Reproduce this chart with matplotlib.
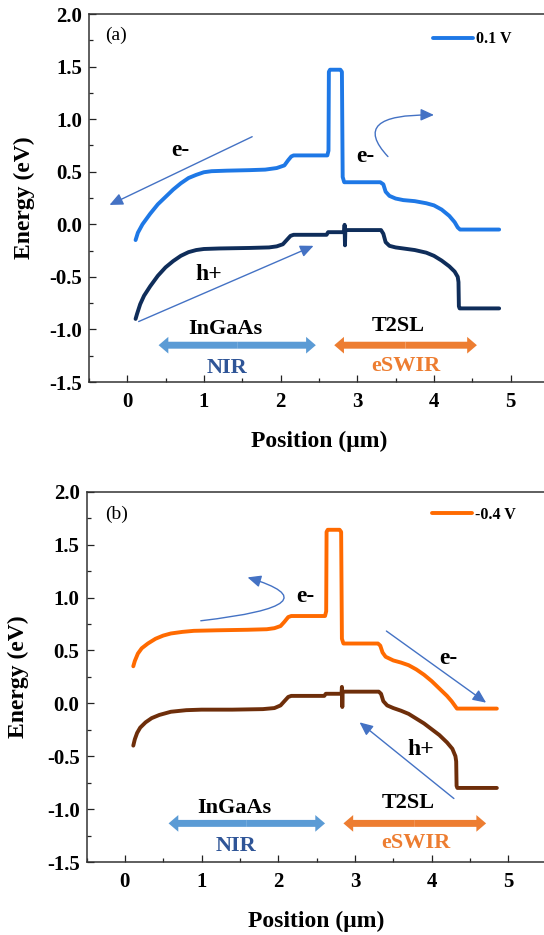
import matplotlib
matplotlib.use("Agg")
import matplotlib.pyplot as plt
from matplotlib.patches import FancyArrowPatch
from matplotlib.path import Path
from matplotlib.ticker import MultipleLocator

plt.rcParams['font.family'] = ['Liberation Serif', 'DejaVu Serif']
plt.rcParams['font.weight'] = 'bold'
plt.rcParams['axes.unicode_minus'] = False

# ---------------- data ----------------
# Panel (a): 0.1 V
a_cb_x = [0.11, 0.14, 0.20, 0.30, 0.40, 0.50, 0.60, 0.70, 0.80, 0.90, 1.00, 1.10, 1.30, 1.60, 1.80,
          1.95, 2.05, 2.10, 2.14, 2.17, 2.40, 2.61, 2.625, 2.63, 2.645, 2.78, 2.80, 2.81, 2.83, 3.30,
          3.34, 3.37, 3.42, 3.50, 3.60, 3.75, 3.90, 4.00, 4.10, 4.20, 4.27, 4.31, 4.34, 4.85]
a_cb_y = [-0.15, -0.08, 0.00, 0.10, 0.19, 0.26, 0.33, 0.39, 0.44, 0.47, 0.495, 0.505, 0.51, 0.515, 0.52,
          0.535, 0.56, 0.61, 0.645, 0.655, 0.655, 0.655, 0.70, 1.45, 1.47, 1.47, 1.45, 0.45, 0.40, 0.40,
          0.38, 0.31, 0.27, 0.245, 0.23, 0.22, 0.20, 0.18, 0.14, 0.08, 0.02, -0.03, -0.05, -0.05]

a_vb_x = [0.11, 0.13, 0.17, 0.22, 0.30, 0.40, 0.50, 0.60, 0.70, 0.80, 0.90, 1.00, 1.20, 1.60, 1.85,
          1.95, 2.03, 2.08, 2.13, 2.17, 2.60, 2.62, 2.83, 2.835, 2.84, 2.845, 3.31, 3.34, 3.37, 3.42,
          3.50, 3.60, 3.75, 3.90, 4.00, 4.10, 4.20, 4.27, 4.31, 4.32, 4.325, 4.335, 4.85]
a_vb_y = [-0.90, -0.85, -0.76, -0.68, -0.59, -0.49, -0.41, -0.35, -0.30, -0.265, -0.245, -0.235, -0.23,
          -0.225, -0.22, -0.21, -0.19, -0.15, -0.11, -0.10, -0.10, -0.075, -0.075, -0.005, -0.20, -0.055,
          -0.055, -0.09, -0.17, -0.205, -0.22, -0.23, -0.245, -0.27, -0.30, -0.345, -0.40, -0.45, -0.50,
          -0.55, -0.78, -0.80, -0.80]

# Panel (b): -0.4 V
b_cb_x = [0.11, 0.13, 0.17, 0.22, 0.30, 0.40, 0.50, 0.60, 0.75, 0.90, 1.20, 1.60, 1.85, 1.95, 2.03,
          2.08, 2.13, 2.17, 2.61, 2.625, 2.63, 2.645, 2.80, 2.82, 2.83, 2.85, 3.30, 3.33, 3.36, 3.40,
          3.50, 3.60, 3.70, 3.80, 3.90, 4.00, 4.10, 4.20, 4.26, 4.30, 4.33, 4.85]
b_cb_y = [0.35, 0.40, 0.47, 0.52, 0.565, 0.61, 0.64, 0.66, 0.675, 0.685, 0.69, 0.695, 0.70, 0.71, 0.73,
          0.77, 0.815, 0.825, 0.825, 0.87, 1.62, 1.64, 1.64, 1.62, 0.61, 0.565, 0.565, 0.545, 0.48, 0.44,
          0.405, 0.385, 0.36, 0.32, 0.27, 0.21, 0.14, 0.07, 0.02, -0.02, -0.05, -0.05]

b_vb_x = [0.11, 0.13, 0.16, 0.20, 0.27, 0.35, 0.45, 0.60, 0.80, 1.00, 1.40, 1.80, 1.95, 2.03, 2.08,
          2.13, 2.17, 2.60, 2.62, 2.825, 2.83, 2.835, 2.84, 3.31, 3.34, 3.37, 3.42, 3.50, 3.60, 3.70,
          3.80, 3.90, 4.00, 4.10, 4.20, 4.27, 4.31, 4.32, 4.325, 4.335, 4.85]
b_vb_y = [-0.40, -0.34, -0.28, -0.23, -0.18, -0.14, -0.11, -0.08, -0.065, -0.06, -0.06, -0.055, -0.045,
          -0.02, 0.02, 0.06, 0.07, 0.07, 0.09, 0.09, 0.155, -0.035, 0.11, 0.11, 0.09, 0.02, -0.02, -0.045,
          -0.07, -0.10, -0.145, -0.19, -0.245, -0.30, -0.37, -0.43, -0.50, -0.55, -0.78, -0.80, -0.80]

legend_a = "0.1 V"
legend_b = "-0.4 V"
x_ticks = [0, 1, 2, 3, 4, 5]
y_ticks = [-1.5, -1.0, -0.5, 0.0, 0.5, 1.0, 1.5, 2.0]

# ---------------- styling ----------------
W, H = 544, 935
fig = plt.figure(figsize=(W / 100, H / 100), dpi=100)

ARROW_BLUE = "#4472C4"
LIGHT_BLUE = "#5B9BD5"
ORANGE = "#ED7D31"
NIR_BLUE = "#2F5597"


def style_axes(ax, ylabelpad):
    ax.set_xlim(-0.5, 5.5)
    ax.set_ylim(-1.5, 2.0)
    ax.set_xticks(x_ticks)
    ax.set_yticks(y_ticks)
    ax.xaxis.set_minor_locator(MultipleLocator(0.5))
    ax.yaxis.set_minor_locator(MultipleLocator(0.25))
    ax.tick_params(which='both', direction='in', top=False, right=False, width=0.9, color='#222222')
    ax.tick_params(which='major', length=5, labelsize=15, pad=7)
    ax.tick_params(axis='y', which='major', pad=5)
    ax.tick_params(which='minor', length=2.6)
    for s in ax.spines.values():
        s.set_linewidth(1.1)
        s.set_color('#333333')
    ax.yaxis.set_major_formatter(matplotlib.ticker.FormatStrFormatter('%.1f'))
    for lab in ax.get_xticklabels() + ax.get_yticklabels():
        lab.set_fontweight('bold')
    ax.set_xlabel("Position (μm)", fontsize=17, fontweight='bold', labelpad=14)
    ax.set_ylabel("Energy (eV)", fontsize=17, fontweight='bold', labelpad=ylabelpad)


def thin_arrow(ax, start, end):
    p = FancyArrowPatch(start, end, transform=ax.transData,
                        arrowstyle="-|>,head_length=8,head_width=3.6",
                        mutation_scale=1, lw=1.0, color=ARROW_BLUE,
                        shrinkA=0, shrinkB=0)
    ax.add_patch(p)


def curved_arrow(ax, start, ctrl, end):
    path = Path([start, ctrl, end], [Path.MOVETO, Path.CURVE3, Path.CURVE3])
    p = FancyArrowPatch(path=path, transform=ax.transData,
                        arrowstyle="-|>,head_length=8,head_width=3.6",
                        mutation_scale=1, lw=1.0, color=ARROW_BLUE)
    ax.add_patch(p)


def double_arrow(ax, x0, x1, y, color):
    xm = (x0 + x1) / 2
    for xe in (x0, x1):
        p = FancyArrowPatch((xm, y), (xe, y), transform=ax.transData,
                            arrowstyle="simple,head_length=7,head_width=12,tail_width=5",
                            mutation_scale=1, lw=0, color=color, shrinkA=0, shrinkB=0)
        ax.add_patch(p)


def add_legend(ax, line, text, x, y):
    ax.legend(handles=[line], labels=[text], loc='center left', bbox_to_anchor=(x, y),
              bbox_transform=ax.transData, frameon=False, handlelength=2.5,
              handletextpad=0.2, borderpad=0, borderaxespad=0,
              prop={'size': 11.5, 'weight': 'bold'})


# ---------------- panel (a) ----------------
ax1 = fig.add_axes([88.8 / W, 1 - 382 / H, (549 - 88.8) / W, 368 / H])
style_axes(ax1, 10)
la, = ax1.plot(a_cb_x, a_cb_y, color="#1E78E6", lw=2.8, solid_capstyle='round', solid_joinstyle='round')
ax1.plot(a_vb_x, a_vb_y, color="#0F2D5A", lw=2.8, solid_capstyle='round', solid_joinstyle='round')
add_legend(ax1, la, legend_a, 3.99, 1.76)
ax1.text(-0.15, 1.80, "(a)", fontsize=14, fontweight='normal', ha='center', va='center')
ax1.text(0.70, 0.70, "e-", fontsize=17, ha='center', va='center')
thin_arrow(ax1, (1.63, 0.833), (-0.23, 0.184))
ax1.text(3.11, 0.64, "e-", fontsize=17, ha='center', va='center')
curved_arrow(ax1, (3.40, 0.644), (2.88, 1.05), (4.00, 1.04))
ax1.text(1.07, -0.48, "h+", fontsize=17, ha='center', va='center')
thin_arrow(ax1, (0.15, -0.925), (2.43, -0.205))
ax1.text(1.28, -1.0, "InGaAs", fontsize=16, ha='center', va='center')
double_arrow(ax1, 0.41, 2.46, -1.15, LIGHT_BLUE)
ax1.text(1.30, -1.365, "NIR", fontsize=16, ha='center', va='center', color=NIR_BLUE)
ax1.text(3.54, -0.966, "T2SL", fontsize=16, ha='center', va='center')
double_arrow(ax1, 2.70, 4.56, -1.15, ORANGE)
ax1.text(3.63, -1.345, "eSWIR", fontsize=16, ha='center', va='center', color=ORANGE)

# ---------------- panel (b) ----------------
ax2 = fig.add_axes([86.5 / W, 1 - 862 / H, (546.7 - 86.5) / W, 370.3 / H])
style_axes(ax2, 13)
lb, = ax2.plot(b_cb_x, b_cb_y, color="#FF6A00", lw=2.8, solid_capstyle='round', solid_joinstyle='round')
ax2.plot(b_vb_x, b_vb_y, color="#6E2E0A", lw=2.8, solid_capstyle='round', solid_joinstyle='round')
add_legend(ax2, lb, legend_b, 4.0, 1.78)
ax2.text(-0.11, 1.79, "(b)", fontsize=14, fontweight='normal', ha='center', va='center')
ax2.text(2.36, 1.01, "e-", fontsize=17, ha='center', va='center')
curved_arrow(ax2, (0.99, 0.78), (2.78, 0.93), (1.60, 1.19))
ax2.text(4.22, 0.425, "e-", fontsize=17, ha='center', va='center')
thin_arrow(ax2, (3.41, 0.683), (4.71, 0.006))
ax2.text(3.86, -0.44, "h+", fontsize=17, ha='center', va='center')
thin_arrow(ax2, (4.29, -0.90), (3.06, -0.18))
ax2.text(1.43, -0.99, "InGaAs", fontsize=16, ha='center', va='center')
double_arrow(ax2, 0.57, 2.61, -1.135, LIGHT_BLUE)
ax2.text(1.45, -1.346, "NIR", fontsize=16, ha='center', va='center', color=NIR_BLUE)
ax2.text(3.69, -0.946, "T2SL", fontsize=16, ha='center', va='center')
double_arrow(ax2, 2.85, 4.71, -1.135, ORANGE)
ax2.text(3.79, -1.32, "eSWIR", fontsize=16, ha='center', va='center', color=ORANGE)

fig.savefig("out.png", dpi=100)
